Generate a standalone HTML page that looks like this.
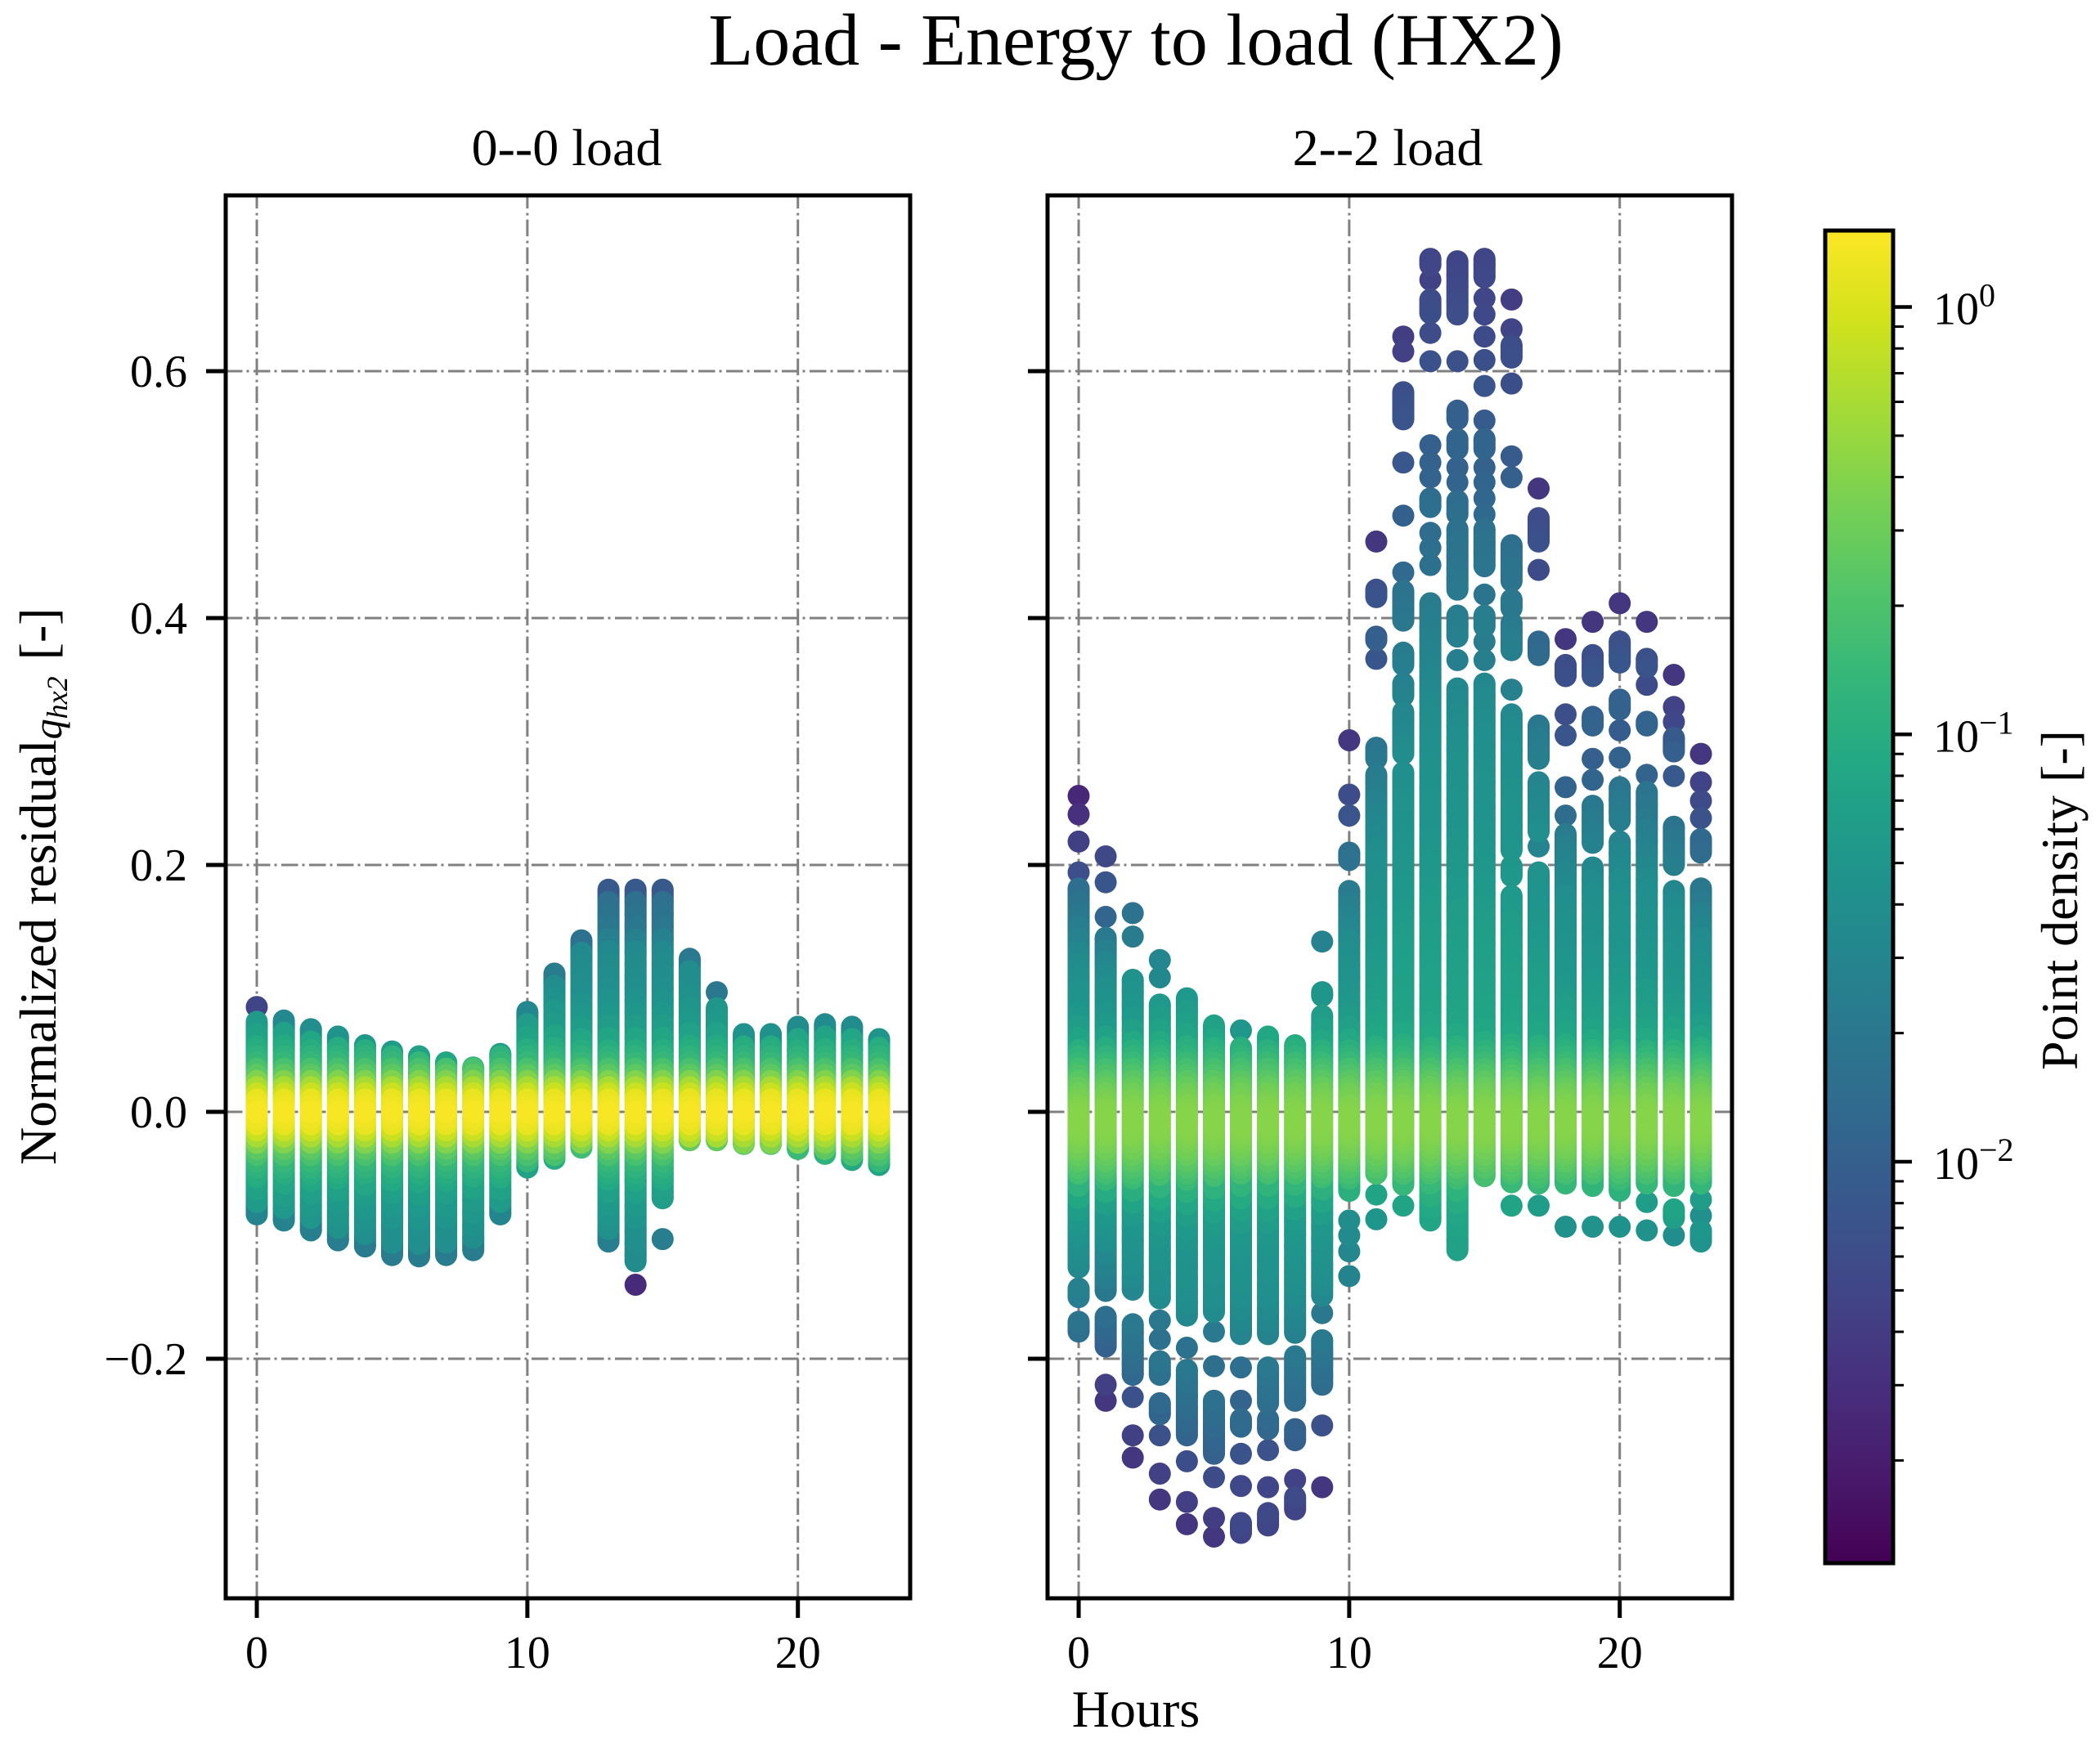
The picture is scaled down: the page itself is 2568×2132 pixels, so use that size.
<!DOCTYPE html>
<html>
<head>
<meta charset="utf-8">
<title>Load - Energy to load (HX2)</title>
<style>
html,body{margin:0;padding:0;background:#fff;}
svg{display:block;}
text{font-family:"Liberation Serif",serif;fill:#000;}
</style>
</head>
<body>
<svg id="fig" width="2568" height="2132" viewBox="0 0 2568 2132" xmlns="http://www.w3.org/2000/svg">
  <defs>
    <linearGradient id="viridis-grad" x1="0" y1="1" x2="0" y2="0"></linearGradient>
  </defs>
  <rect width="2568" height="2132" fill="#fff"/>
  <text x="1389" y="79" font-size="90" text-anchor="middle">Load - Energy to load (HX2)</text>
  <text x="693" y="202" font-size="64" text-anchor="middle">0--0 load</text>
  <text x="1697" y="202" font-size="64" text-anchor="middle">2--2 load</text>
  <g id="left-panel"></g>
  <g id="right-panel"></g>
  <text x="1389" y="2112" font-size="64" text-anchor="middle">Hours</text>
  <text transform="translate(68 1425) rotate(-90)" font-size="64" text-anchor="start">Normalized residual<tspan font-style="italic" font-size="50" dy="7">q</tspan><tspan font-style="italic" font-size="36" dy="7">hx2</tspan><tspan font-size="64" dy="-14" dx="20">[-]</tspan></text>
  <g id="colorbar"></g>
  <text transform="translate(2540 1101) rotate(-90)" font-size="64" text-anchor="middle">Point density [-]</text>
</svg>
<script>
const hours = [0,1,2,3,4,5,6,7,8,9,10,11,12,13,14,15,16,17,18,19,20,21,22,23];
const xTickValues = [0,10,20];
const yTickValues = [-0.2,0,0.2,0.4,0.6];
const colorbarDecades = [0,-1,-2];
const colorbarMinorDecades = [0,-1,-2,-3];

/* residuals clustered around zero, shared by every hour (clipped to each hour's extent) */
const coreResiduals = [-.05,-.045,-.04,-.035,-.03,-.025,-.02,-.015,-.01,-.005,0,.005,.01,.015,.02,.025,.03,.035,.04,.045,.05];

/* 0--0 load: residuals outside the core, per hour */
const leftResiduals = [
[.085,.073,.063,.053,-.053,-.063,-.073,-.083],
[.074,.064,.054,-.058,-.068,-.078,-.088],
[.067,.057,-.056,-.066,-.076,-.086,-.096],
[.061,.052,-.054,-.064,-.074,-.084,-.094,-.104],
[.054,-.059,-.069,-.079,-.089,-.099,-.109],
[.049,-.056,-.066,-.076,-.086,-.096,-.106,-.116],
[.045,-.057,-.067,-.077,-.087,-.097,-.107,-.117],
[.040,-.056,-.066,-.076,-.086,-.096,-.106,-.116],
[.036,-.052,-.062,-.072,-.082,-.092,-.102,-.112],
[.047,-.053,-.063,-.073,-.083],
[.081,.071,.061,.051,-.045],
[.112,.102,.092,.082,.072,.062,.052,-.038],
[.139,.129,.119,.109,.099,.089,.079,.069,.059,-.029],
[.180,.170,.160,.150,.140,.130,.120,.110,.100,.090,.080,.070,.060,-.055,-.065,-.075,-.085,-.095,-.105],
[.180,.170,.160,.150,.140,.130,.120,.110,.100,.090,.080,.070,.060,-.056,-.066,-.076,-.086,-.096,-.106,-.116,-.121,-.140],
[.180,.170,.160,.150,.140,.130,.120,.110,.100,.090,.080,.070,.060,-.055,-.065,-.070,-.103],
[.124,.114,.104,.094,.084,.074,.064,.054,-.023],
[.097,.084,.074,.064,.054,-.023],
[.063,.053,-.026],
[.063,.053,-.026],
[.069,.059,-.030],
[.071,.061,.051,-.034],
[.069,.059,-.039],
[.059,.052,-.043]
];

/* 2--2 load: residuals outside the core, per hour */
const rightResiduals = [
[.256,.241,.219,.194,.181,.17,.16,.15,.14,.13,.12,.11,.1,.09,.08,.07,.06,-.06,-.07,-.08,-.09,-.1,-.11,-.12,-.126,-.143,-.15,-.17,-.178],
[.207,.186,.158,.141,.131,.121,.111,.101,.091,.081,.071,.061,.052,-.055,-.065,-.075,-.085,-.095,-.105,-.115,-.125,-.135,-.145,-.166,-.175,-.181,-.19,-.221,-.234],
[.161,.142,.107,.097,.087,.077,.067,.057,-.054,-.064,-.074,-.084,-.094,-.104,-.114,-.124,-.134,-.144,-.172,-.179,-.187,-.196,-.204,-.213,-.231,-.262,-.28],
[.123,.109,.087,.077,.067,.057,-.051,-.061,-.071,-.081,-.091,-.101,-.111,-.121,-.131,-.141,-.151,-.169,-.184,-.202,-.213,-.236,-.245,-.262,-.293,-.314],
[.092,.082,.073,.063,.053,-.055,-.065,-.075,-.085,-.095,-.105,-.115,-.125,-.135,-.145,-.155,-.165,-.191,-.209,-.219,-.23,-.24,-.251,-.262,-.283,-.316,-.334],
[.07,.059,.052,-.052,-.062,-.072,-.082,-.092,-.102,-.112,-.122,-.132,-.142,-.152,-.162,-.178,-.206,-.234,-.245,-.255,-.266,-.277,-.296,-.329,-.344],
[.066,.052,-.06,-.07,-.08,-.09,-.1,-.11,-.12,-.13,-.14,-.15,-.16,-.17,-.18,-.207,-.234,-.249,-.255,-.277,-.303,-.333,-.341],
[.061,.045,-.06,-.07,-.08,-.09,-.1,-.11,-.12,-.13,-.14,-.15,-.16,-.17,-.18,-.207,-.215,-.226,-.236,-.249,-.257,-.274,-.304,-.325,-.335],
[.054,.039,-.059,-.069,-.079,-.089,-.099,-.109,-.119,-.129,-.139,-.149,-.159,-.169,-.179,-.198,-.207,-.217,-.228,-.234,-.257,-.266,-.298,-.312,-.322],
[.138,.097,.094,.078,.068,.058,-.053,-.063,-.073,-.083,-.093,-.103,-.113,-.123,-.133,-.14,-.149,-.163,-.185,-.196,-.204,-.213,-.221,-.254,-.304],
[.301,.257,.24,.21,.204,.179,.169,.159,.149,.139,.129,.119,.109,.099,.089,.079,.069,.059,-.054,-.064,-.088,-.1,-.113,-.133],
[.462,.423,.417,.385,.382,.367,.295,.286,.273,.263,.253,.243,.233,.223,.213,.203,.193,.183,.173,.163,.153,.143,.133,.123,.113,.103,.093,.083,.073,.063,.053,-.05,-.067,-.087],
[.628,.616,.583,.575,.564,.561,.526,.483,.437,.422,.415,.408,.398,.372,.362,.347,.337,.324,.315,.307,.297,.29,.275,.265,.255,.245,.235,.225,.215,.205,.195,.185,.175,.165,.155,.145,.135,.125,.115,.105,.095,.085,.075,.065,.055,-.033,-.059,-.076],
[.691,.686,.674,.658,.647,.631,.608,.54,.526,.514,.497,.49,.469,.457,.443,.412,.402,.392,.382,.372,.362,.352,.342,.332,.322,.312,.302,.292,.282,.272,.262,.252,.242,.232,.222,.212,.202,.192,.182,.172,.162,.152,.142,.132,.122,.112,.102,.092,.082,.072,.062,.052,-.058,-.068,-.078,-.088],
[.689,.678,.668,.657,.646,.608,.568,.561,.545,.537,.522,.51,.495,.484,.472,.461,.45,.44,.432,.423,.402,.393,.385,.366,.343,.333,.323,.313,.303,.293,.283,.273,.263,.253,.243,.233,.223,.213,.203,.193,.183,.173,.163,.153,.143,.133,.123,.113,.103,.093,.083,.073,.063,.053,-.054,-.064,-.074,-.084,-.094,-.104,-.112],
[.691,.686,.676,.659,.646,.628,.609,.588,.56,.545,.537,.522,.51,.497,.484,.472,.461,.453,.442,.419,.402,.393,.381,.366,.347,.337,.327,.317,.307,.297,.287,.277,.267,.257,.247,.237,.227,.217,.207,.197,.187,.177,.167,.157,.147,.137,.127,.117,.107,.097,.087,.077,.067,.057,-.052],
[.658,.634,.621,.611,.59,.531,.514,.459,.45,.44,.43,.415,.408,.396,.389,.381,.374,.342,.322,.312,.302,.292,.282,.272,.262,.252,.242,.232,.222,.212,.199,.191,.175,.165,.155,.145,.135,.125,.115,.105,.095,.085,.075,.065,.055,-.047,-.057,-.076],
[.505,.481,.47,.462,.439,.381,.37,.313,.303,.293,.286,.267,.257,.247,.237,.227,.215,.194,.184,.174,.164,.154,.144,.134,.124,.114,.104,.094,.084,.074,.064,.054,-.053,-.058,-.076],
[.383,.362,.353,.322,.305,.263,.24,.225,.215,.205,.195,.185,.175,.165,.155,.145,.135,.125,.115,.105,.095,.085,.075,.065,.055,-.058,-.093],
[.397,.37,.36,.353,.32,.313,.286,.269,.248,.238,.228,.218,.198,.188,.178,.168,.158,.148,.138,.128,.118,.108,.098,.088,.078,.068,.058,-.06,-.093],
[.412,.381,.37,.364,.334,.326,.309,.287,.263,.253,.243,.236,.219,.209,.199,.189,.179,.169,.159,.149,.139,.129,.119,.109,.099,.089,.079,.069,.059,-.055,-.064,-.093],
[.397,.367,.36,.346,.316,.313,.273,.259,.249,.239,.229,.219,.209,.199,.189,.179,.169,.159,.149,.139,.129,.119,.109,.099,.089,.079,.069,.059,-.058,-.073,-.096],
[.354,.328,.316,.303,.292,.272,.231,.221,.211,.2,.179,.169,.159,.149,.139,.129,.119,.109,.099,.089,.079,.069,.059,-.06,-.079,-.086,-.1],
[.29,.267,.252,.238,.221,.21,.181,.171,.161,.151,.141,.131,.121,.111,.101,.091,.081,.071,.061,.052,-.058,-.071,-.084,-.096,-.105]
];

/* colour response: |residual| -> point density, 0--0 load */
const leftDensityLevels = [0,.01,.02,.03,.04,.05,.07,.1,.13,.15,.18,.25];
const leftDensityValues = [1.4,1.2,.6,.25,.14,.1,.06,.04,.035,.02,.014,.005];
/* colour response: fraction of hour extent -> tail density, 2--2 load */
const rightTailLevels = [0,.2,.3,.45,.6,.75,.85,.95,1];
const rightTailValues = [.085,.065,.05,.04,.022,.013,.009,.006,.005];
/* density multiplier for isolated outlier points, per hour */
const leftOutlierFactor = [.17,.25,.25,.25,.25,.25,.25,.25,.25,.25,.25,.25,.25,.25,.17,1,.25,.8,.25,.25,.25,.25,.25,.25];
const rightOutlierFactor = [.5,.7,.7,.7,.7,.7,.7,.7,.7,.7,.7,.7,.85,.85,.85,.85,.85,.7,.7,.7,.7,.7,.7,.7];

const viridisStops = ['#440154','#481a6c','#472f7d','#414487','#39568c','#31688e','#2a788e','#23888e','#1f988b','#22a884','#35b779','#54c568','#7ad151','#a5db36','#d2e21b','#fde725'];

const SVG_NS = 'http://www.w3.org/2000/svg';
const DENSITY_MIN = 0.00115, DENSITY_MAX = 1.51;
const Y_TOP_VALUE = 0.7424, Y_BOTTOM_VALUE = -0.394, X_LOW = -1.15, X_HIGH = 24.15;
const AX_TOP = 239, AX_BOTTOM = 1955, AX_W = 837;
const CB_LEFT = 2232, CB_RIGHT = 2315, CB_TOP = 282, CB_BOTTOM = 1912;
const MARK_RADIUS = 13.5, LINK_GAP = 0.0115;

function xAxis(left, hour) { return left + (hour - X_LOW) / (X_HIGH - X_LOW) * AX_W; }
function yAxis(value) { return AX_TOP + (Y_TOP_VALUE - value) / (Y_TOP_VALUE - Y_BOTTOM_VALUE) * (AX_BOTTOM - AX_TOP); }
function colorbarAxis(density) {
  const lo = Math.log10(DENSITY_MIN), hi = Math.log10(DENSITY_MAX);
  return CB_BOTTOM - (Math.log10(density) - lo) / (hi - lo) * (CB_BOTTOM - CB_TOP);
}
function hexToRgb(h) { return [1,3,5].map(i => parseInt(h.substr(i,2),16)); }
function viridis(t) {
  t = Math.max(0, Math.min(1, t));
  const p = t * (viridisStops.length - 1), i = Math.min(Math.floor(p), viridisStops.length - 2), f = p - i;
  const a = hexToRgb(viridisStops[i]), b = hexToRgb(viridisStops[i+1]);
  return 'rgb(' + a.map((c,k) => Math.round(c + (b[k]-c)*f)).join(',') + ')';
}
function densityColor(d) {
  const lo = Math.log10(DENSITY_MIN), hi = Math.log10(DENSITY_MAX);
  return viridis((Math.log10(d) - lo) / (hi - lo));
}
function lookup(levels, values, x) {
  if (x <= levels[0]) return values[0];
  for (let i = 1; i < levels.length; i++) {
    if (x <= levels[i]) {
      const f = (x - levels[i-1]) / (levels[i] - levels[i-1]);
      return Math.exp(Math.log(values[i-1]) * (1-f) + Math.log(values[i]) * f);
    }
  }
  return values[values.length-1];
}
function leftDensity(v) { return lookup(leftDensityLevels, leftDensityValues, Math.abs(v)); }
function rightDensity(v, extent) {
  const core = 0.33 * Math.exp(-Math.pow((v + 0.008) / 0.028, 2) / 2);
  return core + lookup(rightTailLevels, rightTailValues, Math.abs(v) / extent);
}
function line(parent, x1, y1, x2, y2, stroke, width, dash) {
  const l = document.createElementNS(SVG_NS, 'line');
  l.setAttribute('x1', x1); l.setAttribute('y1', y1);
  l.setAttribute('x2', x2); l.setAttribute('y2', y2);
  l.setAttribute('stroke', stroke); l.setAttribute('stroke-width', width);
  if (dash) l.setAttribute('stroke-dasharray', dash);
  parent.appendChild(l);
  return l;
}
function label(parent, x, y, str, anchor) {
  const t = document.createElementNS(SVG_NS, 'text');
  t.setAttribute('x', x); t.setAttribute('y', y);
  t.setAttribute('font-size', 56);
  t.setAttribute('text-anchor', anchor);
  t.textContent = str;
  parent.appendChild(t);
  return t;
}
function formatY(v) { return (v < 0 ? '\u2212' : '') + Math.abs(v).toFixed(1); }

function drawPanel(groupId, left, residuals, densityFn, outlierFactor, edgeFactor, showYLabels) {
  const g = document.getElementById(groupId);
  const gridDash = '20.5,5,3,5.5';
  xTickValues.forEach(function (tick) {
    const px = xAxis(left, tick);
    const gl = line(g, px, AX_BOTTOM, px, AX_TOP, '#808080', 3, gridDash);
    
    
  });
  yTickValues.forEach(function (tick) {
    const py = yAxis(tick);
    const gl = line(g, left, py, left + AX_W, py, '#808080', 3, gridDash);
    
    
  });

  const marks = [];
  hours.forEach(function (hour, h) {
    const outer = residuals[h];
    const hi = Math.max.apply(null, outer), lo = Math.min.apply(null, outer);
    const extent = Math.max(hi, -lo);
    const pts = outer.concat(coreResiduals.filter(v => v <= hi && v >= lo));
    pts.forEach(function (v) {
      let nearest = Infinity;
      let inner = null;
      pts.forEach(function (o) {
        if (o === v) return;
        const gap = Math.abs(o - v);
        nearest = Math.min(nearest, gap);
        if (Math.abs(o) < Math.abs(v) && gap <= LINK_GAP && (inner === null || gap < Math.abs(inner - v))) inner = o;
      });
      let d = densityFn(v, extent);
      if (nearest > LINK_GAP) d *= outlierFactor[h];
      if (v === hi || v === lo) d *= edgeFactor;
      marks.push({ hour: hour, value: v, density: d, inner: inner });
    });
  });
  marks.sort((a, b) => a.density - b.density);
  marks.forEach(function (m) {
    const px = xAxis(left, m.hour).toFixed(1);
    const py = yAxis(m.value).toFixed(1);
    const fill = densityColor(m.density);
    if (m.inner !== null) {
      const link = line(g, px, py, px, yAxis(m.inner).toFixed(1), fill, MARK_RADIUS * 2);
      
      
    }
    const c = document.createElementNS(SVG_NS, 'circle');
    
    
    c.setAttribute('cx', px);
    c.setAttribute('cy', py);
    c.setAttribute('r', MARK_RADIUS);
    c.setAttribute('fill', fill);
    g.appendChild(c);
  });

  const frame = document.createElementNS(SVG_NS, 'rect');
  
  
  frame.setAttribute('x', left); frame.setAttribute('y', AX_TOP);
  frame.setAttribute('width', AX_W); frame.setAttribute('height', AX_BOTTOM - AX_TOP);
  frame.setAttribute('fill', 'none'); frame.setAttribute('stroke', '#000'); frame.setAttribute('stroke-width', 5);
  g.appendChild(frame);

  xTickValues.forEach(function (tick) {
    const px = xAxis(left, tick);
    const tm = line(g, px, AX_BOTTOM, px, AX_BOTTOM + 24, '#000', 5);
    
    
    const tl = label(g, px, 2040, String(tick), 'middle');
    
    
  });
  yTickValues.forEach(function (tick) {
    const py = yAxis(tick);
    const tm = line(g, left - 24, py, left, py, '#000', 5);
    
    
    if (showYLabels) {
      const tl = label(g, 229, py + 19, formatY(tick), 'end');
      
      
    }
  });
}

function drawColorbar() {
  const grad = document.getElementById('viridis-grad');
  viridisStops.forEach(function (col, i) {
    const s = document.createElementNS(SVG_NS, 'stop');
    s.setAttribute('offset', i / (viridisStops.length - 1));
    s.setAttribute('stop-color', col);
    grad.appendChild(s);
  });
  const g = document.getElementById('colorbar');
  const bar = document.createElementNS(SVG_NS, 'rect');
  
  
  bar.setAttribute('x', CB_LEFT); bar.setAttribute('y', CB_TOP);
  bar.setAttribute('width', CB_RIGHT - CB_LEFT); bar.setAttribute('height', CB_BOTTOM - CB_TOP);
  bar.setAttribute('fill', 'url(#viridis-grad)');
  bar.setAttribute('stroke', '#000'); bar.setAttribute('stroke-width', 5);
  g.appendChild(bar);
  colorbarMinorDecades.forEach(function (dec) {
    [2,3,4,5,6,7,8,9].forEach(function (m) {
      const d = m * Math.pow(10, dec);
      if (d < DENSITY_MIN || d > DENSITY_MAX) return;
      const py = colorbarAxis(d);
      const tm = line(g, CB_RIGHT, py, CB_RIGHT + 13, py, '#000', 3);
      
      
    });
  });
  colorbarDecades.forEach(function (dec) {
    const py = colorbarAxis(Math.pow(10, dec));
    const tm = line(g, CB_RIGHT, py, CB_RIGHT + 23, py, '#000', 4.5);
    
    
    const t = label(g, 2364, py + 21, '10', 'start');
    
    
    const sup = document.createElementNS(SVG_NS, 'tspan');
    sup.setAttribute('font-size', 40);
    sup.setAttribute('dy', -22);
    sup.textContent = dec === 0 ? '0' : '\u2212' + Math.abs(dec);
    t.appendChild(sup);
  });
}

drawPanel('left-panel', 276, leftResiduals, leftDensity, leftOutlierFactor, 0.6, true);
drawPanel('right-panel', 1281, rightResiduals, rightDensity, rightOutlierFactor, 1, false);
drawColorbar();
</script>
</body>
</html>
